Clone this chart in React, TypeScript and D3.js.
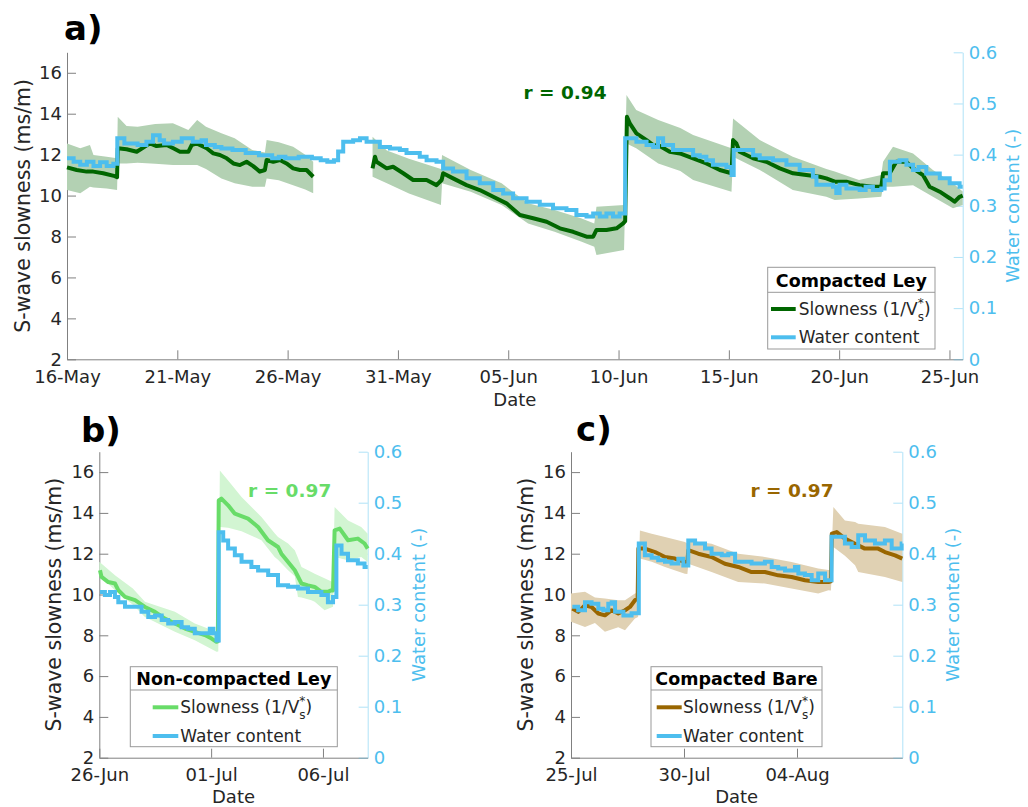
import React, {useRef, useEffect} from "react";
import * as d3 from "d3";

// ---- data (day offset from panel start, value) ----

// a) Compacted Ley, 16-May .. 25-Jun
const aTickDates = ["2021-05-16", "2021-05-21", "2021-05-26", "2021-05-31", "2021-06-05", "2021-06-10", "2021-06-15", "2021-06-20", "2021-06-25"];
const aSlowness = [
    [0, 11.38], [0.44, 11.25], [0.89, 11.17], [1.19, 11.17], [1.64, 11.09], [2.17, 10.95], [2.27, 10.9], [2.3, 12.31],
    [2.7, 12.26], [3.16, 12.14], [3.53, 12.39], [3.76, 12.55], [4.06, 12.42], [4.52, 12.47], [4.82, 12.31], [5.12, 12.14],
    [5.5, 12.14], [5.65, 12.47], [5.88, 12.55], [6.33, 12.31], [6.63, 12.06], [6.93, 11.98], [7.24, 11.82], [7.54, 11.57],
    [7.84, 11.49], [8.14, 11.65], [8.44, 11.44], [8.74, 11.17], [8.97, 11.25], [9.05, 11.74], [9.35, 11.65], [9.65, 11.74],
    [9.95, 11.57], [10.25, 11.33], [10.56, 11.25], [10.86, 11.25], [11.16, 10.92], [12.5, NaN],
    [13.85, 11.33], [13.96, 11.9], [14.03, 11.65], [14.49, 11.33], [14.78, 11.41], [15.24, 11.09], [15.69, 10.76],
    [16.3, 10.76], [16.75, 10.51], [16.98, 10.76], [17.05, 11.09], [17.5, 10.84], [18.11, 10.51], [18.71, 10.27],
    [19.32, 9.94], [19.92, 9.62], [20.53, 9.05], [21.13, 8.89], [21.74, 8.72], [22.34, 8.4], [22.94, 8.23], [23.55, 7.99],
    [23.85, 7.99], [24.0, 8.32], [24.45, 8.32], [24.91, 8.4], [25.21, 8.64], [25.3, 8.75], [25.38, 13.85], [25.51, 13.53],
    [25.81, 13.04], [26.27, 12.71], [26.57, 12.47], [26.87, 12.42], [27.32, 12.14], [27.78, 12.06], [28.38, 11.82],
    [28.98, 11.57], [29.59, 11.25], [30.12, 11.09], [30.19, 12.71], [30.34, 12.55], [30.49, 12.14], [31.1, 11.82],
    [31.7, 11.65], [32.31, 11.33], [32.91, 11.09], [33.51, 11.0], [34.12, 10.92], [34.42, 10.84], [34.8, 10.68],
    [35.33, 10.68], [35.93, 10.51], [36.53, 10.43], [36.91, 10.43], [36.99, 11.09], [37.29, 11.09], [37.59, 11.65],
    [38.05, 11.65], [38.35, 11.33], [38.8, 11.0], [39.1, 10.43], [39.56, 10.19], [40.01, 9.87], [40.23, 9.7],
    [40.46, 9.94], [40.6, 10.0]
];
const aBand = [
    [0, 10.27, 12.55], [0.6, 10.11, 12.31], [1.04, 10.43, 12.47], [1.2, 10.4, 11.98], [1.8, 10.35, 11.9],
    [2.27, 10.27, 11.82], [2.3, 11.57, 13.85], [2.7, 11.57, 13.4], [3.2, 11.6, 13.36], [4.0, 11.55, 13.5],
    [4.8, 11.49, 13.53], [5.5, 11.49, 13.2], [5.9, 11.49, 13.69], [6.3, 11.3, 13.36], [7.0, 10.84, 13.04],
    [7.6, 10.6, 12.8], [8.4, 10.43, 12.23], [8.97, 10.43, 12.1], [9.05, 10.84, 12.71], [9.6, 10.75, 12.6],
    [10.25, 10.51, 12.39], [10.8, 10.3, 12.0], [11.16, 10.11, 11.65], [12.5, NaN, NaN],
    [13.85, 10.92, 12.87], [14.5, 10.6, 12.2], [15.5, 10.1, 11.8], [16.95, 9.54, 11.3], [17.0, 10.6, 11.98],
    [18.3, 10.19, 11.25], [19.7, 9.54, 10.6], [20.9, 8.64, 9.62], [22.1, 8.23, 9.29], [23.3, 7.75, 8.89],
    [23.9, 7.5, 8.64], [24.0, 7.1, 9.45], [25.25, 7.34, 9.54], [25.36, 12.55, 14.91], [25.8, 12.31, 14.18],
    [26.8, 11.57, 13.69], [27.8, 11.2, 13.3], [28.38, 10.76, 12.96], [30.12, 10.19, 12.31], [30.19, 11.9, 13.77],
    [31.4, 11.25, 12.71], [32.9, 10.27, 11.9], [34.42, 9.94, 11.3], [34.8, 9.78, 11.17], [35.9, 9.86, 10.76],
    [36.91, 9.94, 11.0], [36.99, 10.43, 11.65], [37.44, 10.43, 12.39], [38.35, 10.51, 12.06], [39.25, 9.94, 11.25],
    [40.16, 9.38, 10.6], [40.6, 9.54, 10.2]
];
const aWater = [
    [0, 0.393], [0.3, 0.386], [0.6, 0.38], [0.9, 0.386], [1.2, 0.378], [1.5, 0.385], [1.8, 0.378], [2.1, 0.382],
    [2.28, 0.432], [2.6, 0.422], [3.2, 0.419], [3.6, 0.425], [3.9, 0.438], [4.2, 0.428], [4.4, 0.422], [4.8, 0.425],
    [5.2, 0.432], [5.7, 0.425], [6.1, 0.428], [6.3, 0.419], [6.7, 0.415], [7.0, 0.412], [7.5, 0.409], [8.1, 0.403],
    [8.7, 0.399], [9.3, 0.393], [9.6, 0.396], [9.9, 0.393], [10.5, 0.396], [11.1, 0.393], [11.5, 0.389], [11.8, 0.386],
    [12.1, 0.389], [12.29, 0.406], [12.52, 0.425], [12.97, 0.428], [13.28, 0.432], [13.58, 0.425], [14.18, 0.415],
    [14.64, 0.412], [15.09, 0.409], [15.39, 0.403], [15.99, 0.396], [16.3, 0.389], [16.75, 0.386], [17.05, 0.373],
    [17.5, 0.367], [18.11, 0.354], [18.71, 0.344], [19.32, 0.331], [19.77, 0.324], [20.22, 0.315], [20.83, 0.308],
    [21.43, 0.302], [22.03, 0.295], [22.64, 0.292], [23.09, 0.282], [23.55, 0.279], [23.85, 0.285], [24.15, 0.279],
    [24.45, 0.285], [24.75, 0.279], [25.05, 0.285], [25.3, 0.432], [25.81, 0.425], [26.27, 0.419], [26.57, 0.415],
    [26.79, 0.432], [27.02, 0.419], [27.47, 0.409], [28.38, 0.399], [28.68, 0.396], [28.98, 0.389], [29.28, 0.38],
    [29.89, 0.376], [30.12, 0.36], [30.22, 0.409], [31.1, 0.399], [31.4, 0.393], [32.0, 0.389], [32.61, 0.38],
    [33.21, 0.37], [33.81, 0.357], [33.97, 0.341], [34.72, 0.337], [34.87, 0.325], [35.02, 0.341], [35.33, 0.334],
    [35.93, 0.331], [36.2, 0.337], [36.53, 0.331], [36.91, 0.334], [37.06, 0.35], [37.3, 0.386], [37.74, 0.389],
    [38.05, 0.38], [38.35, 0.37], [38.6, 0.376], [38.95, 0.363], [39.56, 0.354], [40.01, 0.344], [40.46, 0.337],
    [40.6, 0.337]
];

// b) Non-compacted Ley, 26-Jun .. 08-Jul
const bTickDates = ["2021-06-26", "2021-07-01", "2021-07-06"];
const bSlowness = [
    [0.03, 11.19], [0.1, 10.86], [0.4, 10.61], [0.7, 10.54], [0.85, 10.21], [1.15, 9.88], [1.6, 9.72], [2.04, 9.39],
    [2.49, 9.15], [2.93, 8.82], [3.38, 8.58], [3.83, 8.33], [4.27, 8.17], [4.72, 8.01], [5.02, 7.84], [5.24, 7.68],
    [5.3, 7.7], [5.34, 14.61], [5.46, 14.7], [5.76, 14.37], [6.06, 13.96], [6.65, 13.72], [7.1, 13.31], [7.54, 12.66],
    [7.99, 12.33], [8.14, 12.0], [8.44, 11.59], [8.74, 11.19], [9.04, 10.54], [9.33, 10.45], [9.63, 10.37],
    [9.93, 10.13], [10.22, 10.13], [10.37, 10.21], [10.45, 10.2], [10.52, 13.14], [10.75, 13.23], [11.12, 12.66],
    [11.56, 12.74], [11.86, 12.5], [12.0, 12.25]
];
const bBand = [
    [0, 10.94, 11.6], [0.7, 10.21, 10.94], [1.5, 9.5, 10.3], [2.04, 8.9, 9.64], [3.38, 8.17, 9.15], [4.27, 7.76, 8.58],
    [5.24, 7.19, 8.17], [5.32, 7.2, 8.3], [5.39, 13.31, 16.08], [5.76, 13.27, 15.59], [6.36, 13.1, 14.78],
    [7.25, 12.66, 13.8], [7.84, 11.84, 13.0], [7.99, 11.7, 12.82], [8.44, 11.19, 12.5], [8.74, 10.9, 12.17],
    [8.88, 9.88, 11.8], [9.04, 9.85, 11.35], [9.48, 9.72, 11.1], [9.63, 9.65, 11.02], [10.07, 9.23, 10.8],
    [10.45, 9.4, 10.6], [10.52, 11.84, 14.29], [11.12, 11.68, 13.63], [11.71, 11.84, 13.31], [12.0, 11.59, 12.98]
];
const bWater = [
    [0.03, 0.325], [0.25, 0.319], [0.48, 0.325], [0.7, 0.315], [0.85, 0.305], [1.15, 0.296], [1.59, 0.296],
    [1.89, 0.286], [2.19, 0.276], [2.49, 0.279], [2.79, 0.27], [3.08, 0.263], [3.38, 0.266], [3.68, 0.256],
    [3.97, 0.253], [4.27, 0.244], [4.72, 0.244], [4.94, 0.253], [5.1, 0.244], [5.24, 0.23], [5.34, 0.442],
    [5.54, 0.426], [5.76, 0.41], [6.06, 0.397], [6.36, 0.384], [6.8, 0.374], [7.1, 0.367], [7.55, 0.358],
    [7.99, 0.338], [8.44, 0.335], [8.88, 0.332], [9.33, 0.325], [9.93, 0.319], [10.22, 0.305], [10.45, 0.315],
    [10.6, 0.416], [10.83, 0.4], [11.12, 0.387], [11.56, 0.381], [11.86, 0.374], [12.0, 0.374]
];

// c) Compacted Bare, 25-Jul .. 08-Aug
const cTickDates = ["2021-07-25", "2021-07-30", "2021-08-04"];
const cSlowness = [
    [0.06, 9.31], [0.32, 9.15], [0.62, 9.47], [0.91, 9.39], [1.21, 9.07], [1.5, 8.98], [1.8, 9.23], [2.09, 9.07],
    [2.39, 9.23], [2.61, 9.39], [2.83, 9.72], [2.95, 9.8], [2.98, 12.25], [3.27, 12.25], [3.72, 12.08], [4.16, 11.84],
    [4.6, 11.76], [5.04, 11.59], [5.15, 11.6], [5.19, 12.17], [5.63, 12.0], [6.22, 11.84], [6.81, 11.51], [7.4, 11.35],
    [7.99, 11.1], [8.58, 11.1], [9.17, 10.94], [9.76, 10.86], [10.35, 10.7], [10.94, 10.61], [11.39, 10.61],
    [11.5, 10.65], [11.54, 12.98], [11.76, 13.06], [12.12, 12.74], [12.57, 12.49], [13.0, 12.25], [13.59, 12.25],
    [13.89, 12.08], [14.34, 11.92], [14.66, 11.76]
];
const cBand = [
    [0, 8.66, 10.05], [0.62, 8.41, 10.13], [1.06, 8.6, 9.85], [1.5, 8.17, 9.8], [2.09, 8.4, 9.72], [2.39, 8.25, 9.72],
    [2.83, 8.82, 10.05], [2.97, 8.9, 10.1], [3.05, 11.76, 13.14], [3.57, 11.6, 12.98], [4.16, 11.35, 12.82],
    [5.04, 11.02, 12.57], [5.15, 11.0, 12.5], [5.19, 11.51, 12.65], [6.22, 11.1, 12.49], [7.4, 10.61, 12.0],
    [8.58, 10.54, 11.84], [9.76, 10.29, 11.59], [10.94, 10.05, 11.27], [11.39, 10.21, 11.2], [11.5, 10.2, 11.2],
    [11.61, 12.33, 14.29], [12.12, 11.9, 13.63], [12.57, 11.43, 13.55], [12.71, 11.1, 13.47], [13.89, 10.86, 13.31],
    [14.66, 10.61, 12.98]
];
const cWater = [
    [0.06, 0.296], [0.32, 0.289], [0.62, 0.305], [0.91, 0.302], [1.21, 0.292], [1.43, 0.289], [1.65, 0.302],
    [1.8, 0.305], [1.95, 0.286], [2.32, 0.279], [2.68, 0.283], [3.0, 0.42], [3.27, 0.397], [3.57, 0.392],
    [3.86, 0.387], [4.16, 0.384], [4.45, 0.381], [4.75, 0.39], [4.97, 0.377], [5.19, 0.426], [5.49, 0.42],
    [5.93, 0.41], [6.22, 0.4], [6.67, 0.397], [6.96, 0.4], [7.26, 0.384], [7.99, 0.381], [8.58, 0.384], [8.88, 0.374],
    [9.17, 0.371], [9.47, 0.367], [9.91, 0.374], [10.06, 0.361], [10.35, 0.358], [10.65, 0.348], [10.94, 0.361],
    [11.24, 0.348], [11.53, 0.433], [12.12, 0.42], [12.42, 0.413], [12.71, 0.436], [13.01, 0.426], [13.45, 0.42],
    [13.89, 0.426], [14.19, 0.41], [14.63, 0.42], [14.66, 0.42]
];

const slownessTicks = [2, 4, 6, 8, 10, 12, 14, 16];
const waterTicks = [0, 0.1, 0.2, 0.3, 0.4, 0.5, 0.6];

const FONT = "'DejaVu Sans', sans-serif";
const waterColor = "#4DBEEE";
const axisGray = "#808080";
const textDark = "#262626";

const panels = [
    {
        letter: "a)", name: "Compacted Ley", r: "r = 0.94", start: "2021-05-16", span: 40.6, ticks: aTickDates,
        slowness: aSlowness, band: aBand, water: aWater,
        lineColor: "#006600", bandColor: "#b3d1b3",
        left: 67, right: 962.7, top: 52.3, bottom: 359.3,
        yLabelX: 30, wLabelX: 1019, dateY: 405.5, letterX: 64, letterY: 40, rX: 565, rY: 99.3,
        legend: {x: 767.7, y: 267.3, w: 167.3, h: 81.7, div: 25, titleY: 19.7, row1: 41.7, row2: 70, s0: 3.3, s1: 28, tx: 31}
    },
    {
        letter: "b)", name: "Non-compacted Ley", r: "r = 0.97", start: "2021-06-26", span: 12, ticks: bTickDates,
        slowness: bSlowness, band: bBand, water: bWater,
        lineColor: "#68dc68", bandColor: "#d2f5d2",
        left: 99.3, right: 367.7, top: 451.7, bottom: 757.7,
        yLabelX: 61, wLabelX: 425, dateY: 802.5, letterX: 81, letterY: 441.5, rX: 289.7, rY: 496.7,
        legend: {x: 130.3, y: 666.7, w: 207, h: 80, div: 23.3, titleY: 18.5, row1: 40.6, row2: 69.3, s0: 22.4, s1: 48, tx: 50}
    },
    {
        letter: "c)", name: "Compacted Bare", r: "r = 0.97", start: "2021-07-25", span: 14.66, ticks: cTickDates,
        slowness: cSlowness, band: cBand, water: cWater,
        lineColor: "#996600", bandColor: "#e0d1b3",
        left: 571, right: 902.3, top: 451.7, bottom: 757.7,
        yLabelX: 533, wLabelX: 958.5, dateY: 802.5, letterX: 576, letterY: 441, rX: 792, rY: 496.7,
        legend: {x: 651, y: 666.7, w: 171, h: 80, div: 23.3, titleY: 18.5, row1: 40.6, row2: 69.3, s0: 5.7, s1: 30.7, tx: 32}
    }
];

const parseDay = d3.timeParse("%Y-%m-%d");
const fmtDay = d3.timeFormat("%d-%b");

function drawPanel(svg, p) {
    const start = parseDay(p.start);
    const t = d => new Date(start.getTime() + d * 864e5);

    const x = d3.scaleTime().domain([start, t(p.span)]).range([p.left, p.right]);
    const y = d3.scaleLinear().domain([2, 17]).range([p.bottom, p.top]);
    const yw = d3.scaleLinear().domain([0, 0.6]).range([p.bottom, p.top]);

    const g = svg.append('g');

    // axes first, data goes on top
    const gx = g.append('g')
        .attr('transform', `translate(0,${p.bottom})`)
        .call(d3.axisBottom(x).tickValues(p.ticks.map(parseDay)).tickFormat(fmtDay).tickSize(-9).tickSizeOuter(0).tickPadding(11));
    const gy = g.append('g')
        .attr('transform', `translate(${p.left},0)`)
        .call(d3.axisLeft(y).tickValues(slownessTicks).tickSize(-9).tickSizeOuter(0).tickPadding(5));
    const gw = g.append('g')
        .attr('transform', `translate(${p.right},0)`)
        .call(d3.axisRight(yw).tickValues(waterTicks).tickFormat(d => d === 0 ? "0" : d.toFixed(1)).tickSize(-9).tickSizeOuter(0).tickPadding(6));

    [gx, gy].forEach(a => {
        a.attr('font-family', FONT).attr('font-size', 18);
        a.selectAll('.domain, .tick line').attr('stroke', axisGray);
        a.selectAll('.tick text').attr('fill', textDark);
    });
    gw.attr('font-family', FONT).attr('font-size', 18);
    gw.selectAll('.domain, .tick line').attr('stroke', waterColor).attr('stroke-opacity', 0.45);
    gw.selectAll('.tick text').attr('fill', waterColor);

    // uncertainty band
    const area = d3.area()
        .defined(d => !isNaN(d[1]))
        .x(d => x(t(d[0])))
        .y0(d => y(d[1]))
        .y1(d => y(d[2]));
    g.append('path').datum(p.band).attr('d', area).attr('fill', p.bandColor);

    // slowness
    const line = d3.line()
        .defined(d => !isNaN(d[1]))
        .x(d => x(t(d[0])))
        .y(d => y(d[1]));
    g.append('path').datum(p.slowness).attr('d', line)
        .attr('fill', 'none').attr('stroke', p.lineColor).attr('stroke-width', 4).attr('stroke-linejoin', 'round');

    // water content (stepped)
    const wline = d3.line()
        .curve(d3.curveStepAfter)
        .x(d => x(t(d[0])))
        .y(d => yw(d[1]));
    g.append('path').datum(p.water).attr('d', wline)
        .attr('fill', 'none').attr('stroke', waterColor).attr('stroke-width', 4);

    // labels
    g.append('text').attr('x', (p.left + p.right) / 2).attr('y', p.dateY)
        .attr('text-anchor', 'middle').attr('fill', textDark)
        .style('font-family', FONT).style('font-size', '18px').text('Date');
    g.append('text').attr('transform', `translate(${p.yLabelX},${(p.top + p.bottom) / 2}) rotate(-90)`)
        .attr('text-anchor', 'middle').attr('fill', textDark)
        .style('font-family', FONT).style('font-size', '20.5px').text('S-wave slowness (ms/m)');
    g.append('text').attr('transform', `translate(${p.wLabelX},${(p.top + p.bottom) / 2}) rotate(-90)`)
        .attr('text-anchor', 'middle').attr('fill', waterColor)
        .style('font-family', FONT).style('font-size', '18px').text('Water content (-)');
    g.append('text').attr('x', p.letterX).attr('y', p.letterY)
        .attr('fill', '#000').style('font-family', FONT).style('font-size', '34px').style('font-weight', 'bold')
        .text(p.letter);
    g.append('text').attr('x', p.rX).attr('y', p.rY).attr('text-anchor', 'middle')
        .attr('fill', p.lineColor).style('font-family', FONT).style('font-size', '18.5px').style('font-weight', 'bold')
        .text(p.r);

    // legend
    const L = p.legend;
    const lg = g.append('g').attr('transform', `translate(${L.x},${L.y})`)
        .style('font-family', FONT);
    lg.append('rect').attr('width', L.w).attr('height', L.h)
        .attr('fill', 'white').attr('stroke', '#999').attr('stroke-width', 1);
    lg.append('line').attr('x1', 0).attr('x2', L.w).attr('y1', L.div).attr('y2', L.div)
        .attr('stroke', '#999').attr('stroke-width', 1);
    lg.append('text').attr('x', L.w / 2).attr('y', L.titleY).attr('text-anchor', 'middle')
        .style('font-size', '17.5px').style('font-weight', 'bold').attr('fill', '#000').text(p.name);

    lg.append('line').attr('x1', L.s0).attr('x2', L.s1).attr('y1', L.row1).attr('y2', L.row1)
        .attr('stroke', p.lineColor).attr('stroke-width', 4);
    const txt = lg.append('text').attr('x', L.tx).attr('y', L.row1 + 6)
        .style('font-size', '17px').attr('fill', textDark);
    txt.append('tspan').text('Slowness (1/V');
    txt.append('tspan').attr('dy', -8).style('font-size', '12px').text('*');
    txt.append('tspan').attr('dx', -6).attr('dy', 14).style('font-size', '12px').text('s');
    txt.append('tspan').attr('dy', -6).text(')');

    lg.append('line').attr('x1', L.s0).attr('x2', L.s1).attr('y1', L.row2).attr('y2', L.row2)
        .attr('stroke', waterColor).attr('stroke-width', 4);
    lg.append('text').attr('x', L.tx).attr('y', L.row2 + 6)
        .style('font-size', '17px').attr('fill', textDark).text('Water content');
}

const App = () => {
    const ref = useRef(null);

    useEffect(() => {
        const svg = d3.select(ref.current);
        svg.selectAll('*').remove();
        panels.forEach(p => drawPanel(svg, p));
    }, []);

    return (
        <svg ref={ref} width={1028} height={807}
             style={{position: 'absolute', left: 0, top: 0, background: 'white'}}/>
    );
};

export default App;
